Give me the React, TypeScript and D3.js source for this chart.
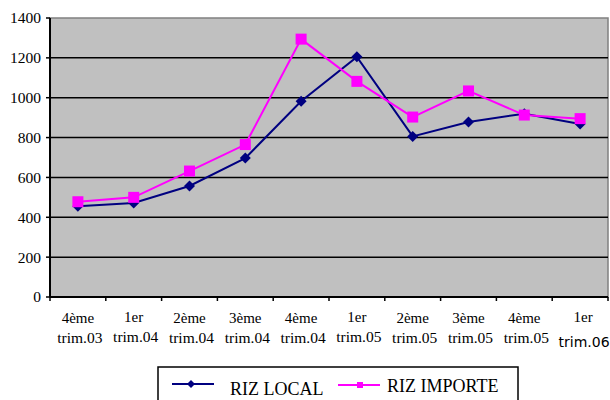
import React from "react";
import * as d3 from "d3";

const categories = [
  ["4ème", "trim.03"], ["1er", "trim.04"], ["2ème", "trim.04"], ["3ème", "trim.04"], ["4ème", "trim.04"],
  ["1er", "trim.05"], ["2ème", "trim.05"], ["3ème", "trim.05"], ["4ème", "trim.05"], ["1er", "trim.06"],
];
const rizLocal = [455, 472, 557, 697, 982, 1205, 806, 878, 920, 868];
const rizImporte = [478, 500, 632, 765, 1294, 1082, 903, 1034, 913, 895];
const yTicks = [0, 200, 400, 600, 800, 1000, 1200, 1400];

const W = 610, H = 400;
const plot = { left: 50, right: 608, top: 18, bottom: 297 };
const NAVY = "#000080", MAG = "#FF00FF";
const serif = "Liberation Serif";

function Diamond({ x, y, r = 5.5 }: { x: number; y: number; r?: number }) {
  return <path d={`M${x},${y - r}L${x + r},${y}L${x},${y + r}L${x - r},${y}Z`} fill={NAVY} />;
}
function Square({ x, y, s = 11 }: { x: number; y: number; s?: number }) {
  return <rect x={x - s / 2} y={y - s / 2} width={s} height={s} fill={MAG} />;
}

export default function App() {
  const x = d3.scaleBand<number>().domain(d3.range(categories.length)).range([plot.left, plot.right]);
  const y = d3.scaleLinear().domain([0, 1400]).range([plot.bottom, plot.top]);
  const cx = (i: number) => (x(i) as number) + x.bandwidth() / 2;
  const line = d3.line<number>().x((_, i) => cx(i)).y((d) => y(d));
  const st = { fontFamily: serif };

  return (
    <svg width={W} height={H} style={{ position: "absolute", left: 0, top: 0 }}>
      <rect x={0} y={0} width={W} height={H} fill="#fff" />
      <rect x={plot.left} y={plot.top} width={plot.right - plot.left} height={plot.bottom - plot.top}
        fill="#c0c0c0" stroke="#808080" strokeWidth={1.5} />
      {yTicks.filter((t) => t > 0 && t < 1400).map((t) => (
        <line key={t} x1={plot.left} x2={plot.right} y1={y(t)} y2={y(t)} stroke="#000" strokeWidth={1.5} />
      ))}
      <line x1={plot.left} x2={plot.left} y1={plot.top} y2={plot.bottom} stroke="#000" strokeWidth={2} />
      <line x1={plot.left} x2={plot.right} y1={plot.bottom} y2={plot.bottom} stroke="#000" strokeWidth={2} />
      {yTicks.map((t) => (
        <g key={t}>
          <line x1={plot.left - 4} x2={plot.left} y1={y(t)} y2={y(t)} stroke="#000" strokeWidth={1.5} />
          <text x={41} y={y(t)} dy="0.35em" textAnchor="end" style={st} fontSize={15.5} fill="#000">{t}</text>
        </g>
      ))}
      {d3.range(categories.length + 1).map((i) => {
        const xp = i < categories.length ? (x(i) as number) : plot.right;
        return <line key={i} x1={xp} x2={xp} y1={plot.bottom} y2={plot.bottom + 4} stroke="#000" strokeWidth={1.5} />;
      })}
      {categories.map((c, i) => {
        const last = i === categories.length - 1;
        return (
          <g key={i}>
            <text x={cx(i) + (last ? 3 : 0)} y={c[0] === "1er" ? 322 : 323} textAnchor="middle" style={st} fontSize={15} fill="#000">{c[0]}</text>
            {last ? (
              <text x={cx(i) + 4} y={347} textAnchor="middle" style={{ fontFamily: "DejaVu Sans" }} fontSize={14} fill="#000">{c[1]}</text>
            ) : (
              <text x={cx(i) + 2} y={c[0] === "1er" ? 342 : 343} textAnchor="middle" style={st} fontSize={15.5} fill="#000">{c[1]}</text>
            )}
          </g>
        );
      })}
      <path d={line(rizLocal) || ""} fill="none" stroke={NAVY} strokeWidth={2} />
      <path d={line(rizImporte) || ""} fill="none" stroke={MAG} strokeWidth={2} />
      {rizLocal.map((v, i) => <Diamond key={i} x={cx(i)} y={y(v)} />)}
      {rizImporte.map((v, i) => <Square key={i} x={cx(i)} y={y(v)} />)}
      <rect x={158} y={367} width={360} height={50} fill="#fff" stroke="#000" strokeWidth={1.5} />
      <line x1={172} x2={214} y1={384} y2={384} stroke={NAVY} strokeWidth={2} />
      <Diamond x={191} y={384} r={4} />
      <text x={230} y={395} style={st} fontSize={18} fill="#000">RIZ LOCAL</text>
      <line x1={338} x2={380} y1={385} y2={385} stroke={MAG} strokeWidth={2} />
      <Square x={360} y={385} s={6} />
      <text x={387} y={392} style={st} fontSize={18} fill="#000">RIZ IMPORTE</text>
    </svg>
  );
}
